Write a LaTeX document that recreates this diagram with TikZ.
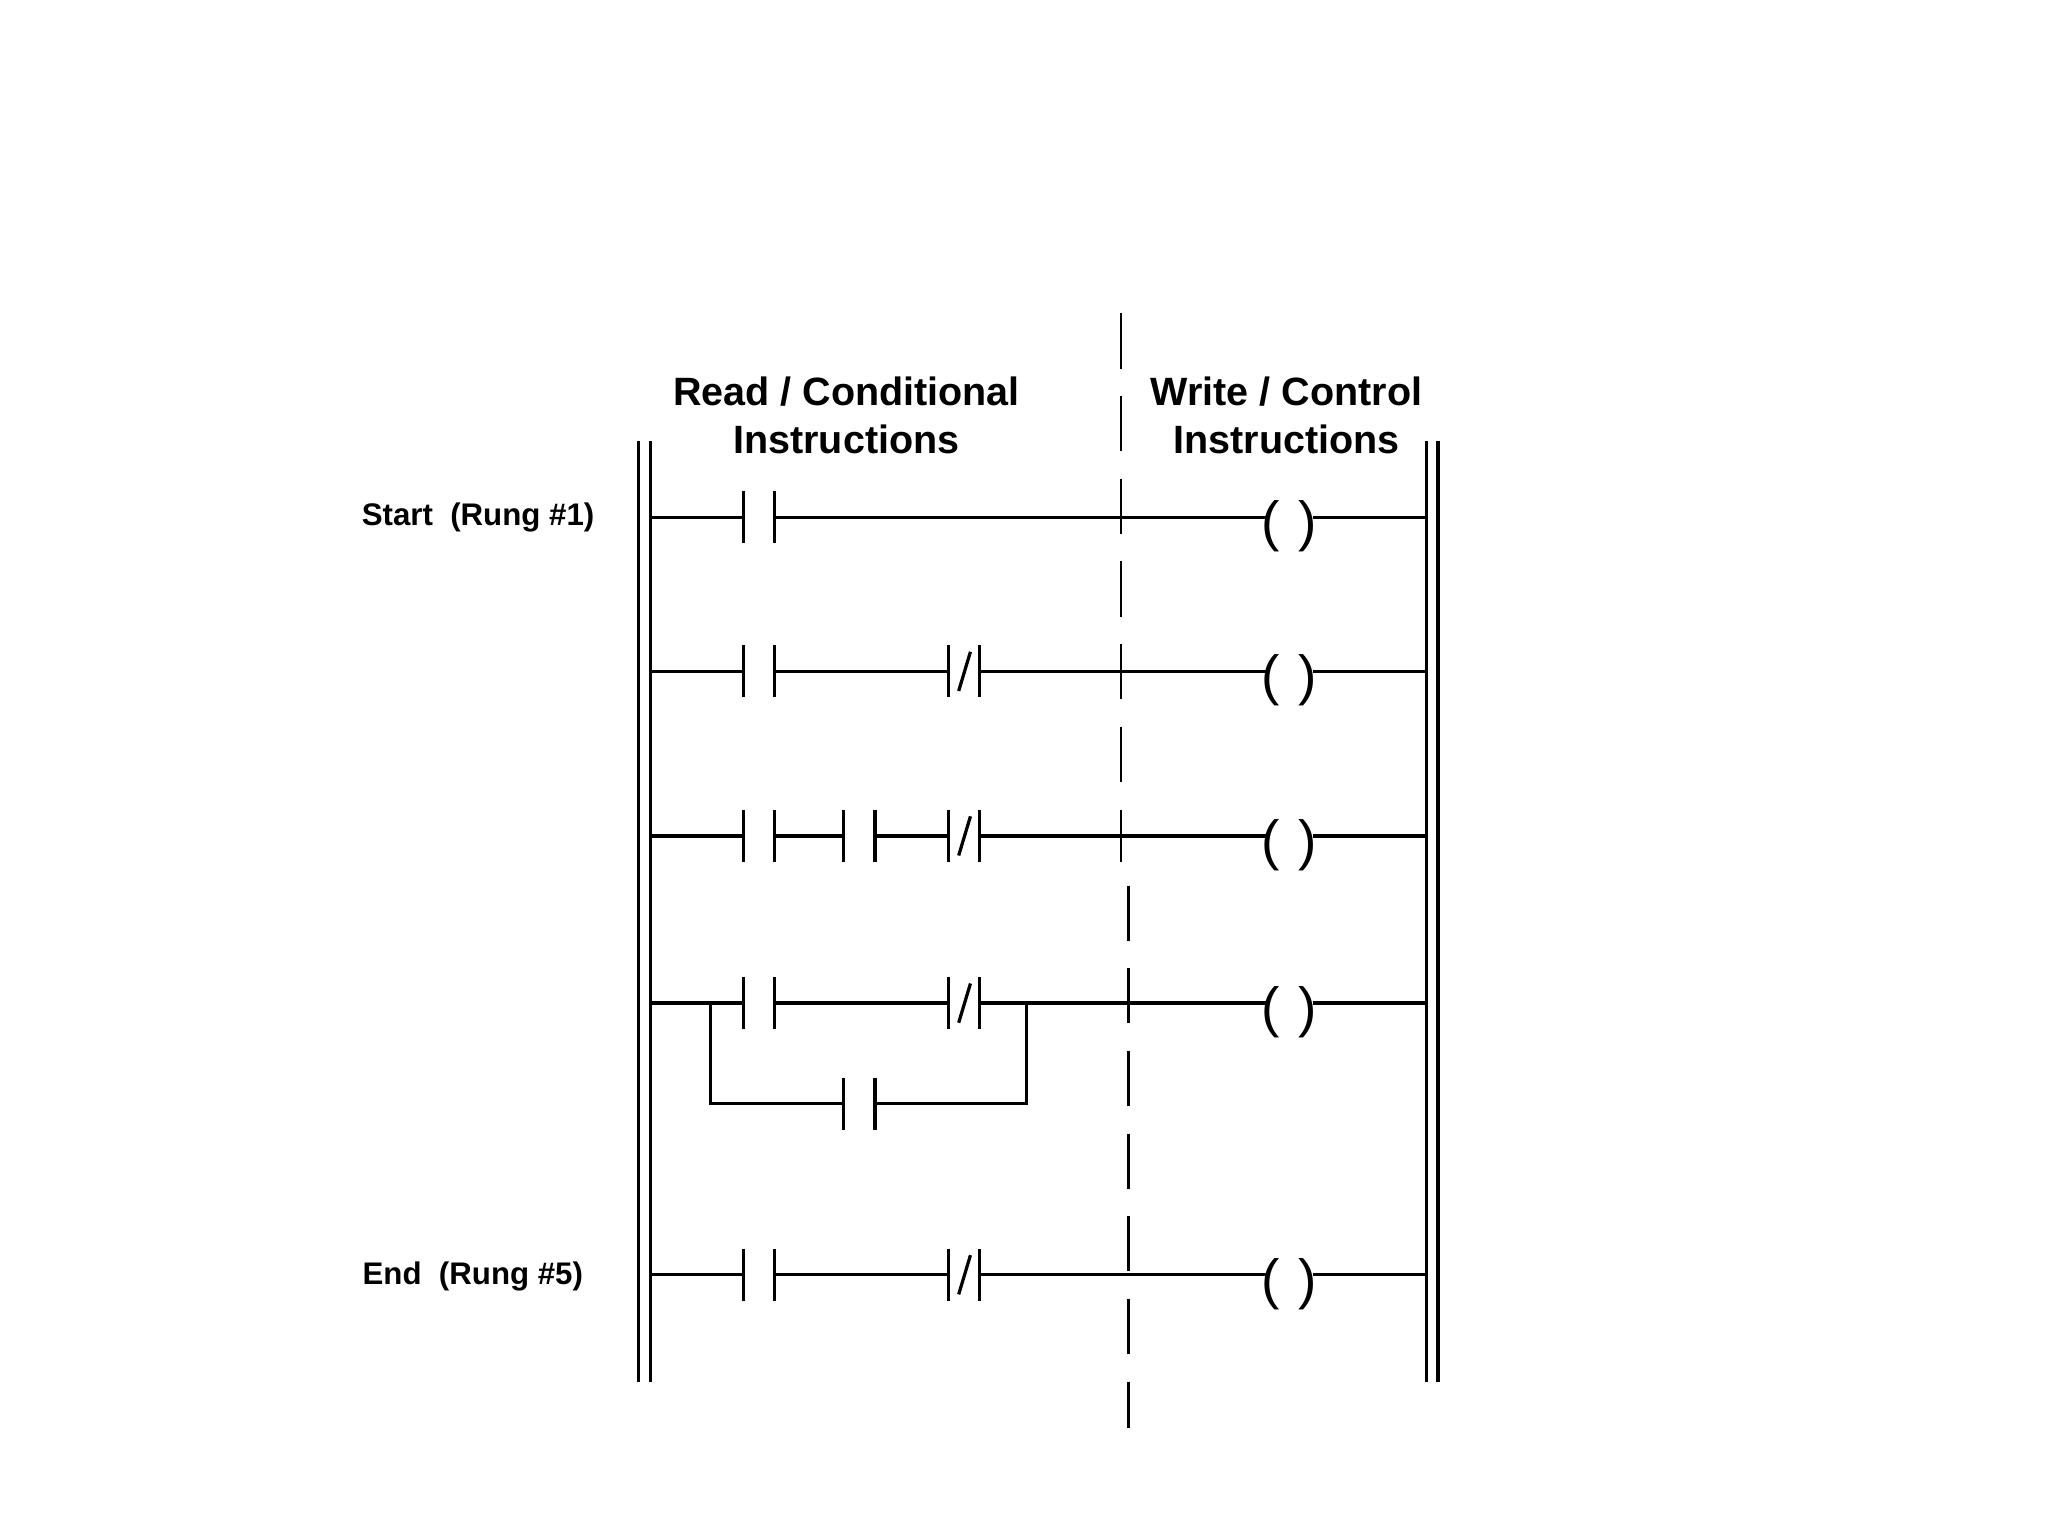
\documentclass[tikz,border=0pt]{standalone}
\usepackage{fontspec}
\setmainfont{Liberation Sans}
\begin{document}
\begin{tikzpicture}[x=0.01cm,y=-0.01cm,line width=0.7pt,
  hdr/.style={font=\fontsize{8.6}{10.3}\selectfont\bfseries,align=center},
  lbl/.style={font=\fontsize{6.8}{8}\selectfont\bfseries},
  coil/.style={font=\fontsize{12}{14}\selectfont,inner sep=0pt}]
\useasboundingbox (0,0) rectangle (1568,1176);
% rails
\draw (489,338) -- (489,1058) (498,338) -- (498,1058);
\draw (1092,338) -- (1092,1058) (1101,338) -- (1101,1058);
% dashed divider
\draw[dash pattern=on 12pt off 6pt,line width=0.5pt] (858,240) -- (858,660);
\draw[dash pattern=on 12pt off 6pt,line width=0.5pt] (864,678) -- (864,1093);
% headers
\node[hdr] (h1) at (648,318) {Read / Conditional\\Instructions};
\node[hdr] (h2) at (985,318) {Write / Control\\Instructions};
\node[lbl] (s) at (366,396) {Start\ \ (Rung \#1)};
\node[lbl] (e) at (362,977) {End\ \ (Rung \#5)};
% macros
\newcommand{\nocont}[2]{\draw (#1,#2-20) -- (#1,#2+20) (#1+24,#2-20) -- (#1+24,#2+20);}
\newcommand{\nccont}[2]{\nocont{#1}{#2}\draw (#1+17,#2-15) -- (#1+8,#2+15);}
\newcommand{\coilx}[1]{\node[coil] at (987,#1+7) {(\,\,)};}
% rung 1
\draw (498,396) -- (569,396) (593,396) -- (970,396) (1005,396) -- (1092,396);
\nocont{569}{396}\coilx{396}
% rung 2
\draw (498,514) -- (569,514) (593,514) -- (726,514) (750,514) -- (970,514) (1005,514) -- (1092,514);
\nocont{569}{514}\nccont{726}{514}\coilx{514}
% rung 3
\draw (498,640) -- (569,640) (593,640) -- (646,640) (669,640) -- (726,640) (750,640) -- (970,640) (1005,640) -- (1092,640);
\nocont{569}{640}\nocont{646}{640}\nccont{726}{640}\coilx{640}
% rung 4
\draw (498,768) -- (569,768) (593,768) -- (726,768) (750,768) -- (970,768) (1005,768) -- (1092,768);
\draw (544,768) -- (544,845) -- (646,845) (669,845) -- (786,845) -- (786,768);
\nocont{569}{768}\nccont{726}{768}\nocont{646}{845}\coilx{768}
% rung 5
\draw (498,976) -- (569,976) (593,976) -- (726,976) (750,976) -- (970,976) (1005,976) -- (1092,976);
\nocont{569}{976}\nccont{726}{976}\coilx{976}
\end{tikzpicture}
\end{document}
